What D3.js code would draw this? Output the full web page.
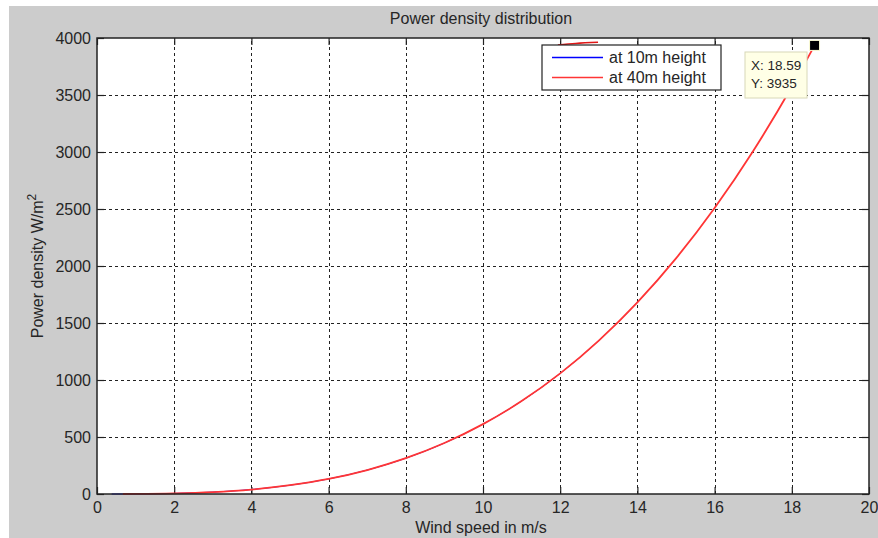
<!DOCTYPE html>
<html>
<head>
<meta charset="utf-8">
<script src="https://cdn.jsdelivr.net/npm/d3@7"></script>
<style>
  html, body { margin: 0; padding: 0; background: #fff; }
  svg { display: block; font-family: "Liberation Sans", Arial, sans-serif; }
</style>
</head>
<body>
<svg id="chart" width="878" height="538"></svg>
<script>
// Wind speed (m/s) and power density (W/m^2) at the two measuring heights
const speed40 = [0.67, 1, 2, 3, 4, 5, 6, 7, 8, 9, 10, 11, 12, 13, 14, 15, 16, 17, 18, 18.59];
const density40 = [0.2, 0.6, 4.9, 16.5, 39, 77, 132, 210, 314, 447, 613, 815, 1058, 1346, 1681, 2067, 2509, 3009, 3572, 3935];
const speed10 = [0.38, 0.67, 1, 2, 3, 4, 5, 6, 7, 8, 9, 10, 11, 12, 13, 14, 14.6];
const density10 = [0.0, 0.2, 0.6, 4.9, 16.5, 39, 77, 132, 210, 314, 447, 613, 815, 1058, 1346, 1681, 1906];
// short red trace along the top edge of the axes
const upperSpeed = [11.94, 12.4, 12.98];
const upperDensity = [3939, 3952, 3962];

const xTicks = [0, 2, 4, 6, 8, 10, 12, 14, 16, 18, 20];
const yTicks = [0, 500, 1000, 1500, 2000, 2500, 3000, 3500, 4000];
const seriesNames = ["at 10m height", "at 40m height"];
const tipPoint = { x: 18.59, y: 3935 };

const svg = d3.select("#chart");
const W = 878, H = 538;
const box = { left: 97, right: 869, top: 38, bottom: 494 };

// figure background
svg.append("rect").attr("x", 9).attr("y", 6).attr("width", W - 9).attr("height", H - 6).attr("fill", "#cccccc");

const x = d3.scaleLinear().domain([0, 20]).range([box.left, box.right]);
const y = d3.scaleLinear().domain([0, 4000]).range([box.bottom, box.top]);

// plot area
svg.append("rect")
  .attr("x", box.left).attr("y", box.top)
  .attr("width", box.right - box.left).attr("height", box.bottom - box.top)
  .attr("fill", "#fff");

// dashed grid
const grid = svg.append("g").attr("stroke", "#222").attr("stroke-width", 1).attr("stroke-dasharray", "3,3");
grid.selectAll("line.vx").data(xTicks.slice(1, -1)).join("line")
  .attr("x1", d => Math.round(x(d)) + 0.5).attr("x2", d => Math.round(x(d)) + 0.5)
  .attr("y1", box.bottom).attr("y2", box.top);
grid.selectAll("line.hy").data(yTicks.slice(1, -1)).join("line")
  .attr("y1", d => Math.round(y(d)) + 0.5).attr("y2", d => Math.round(y(d)) + 0.5)
  .attr("x1", box.left).attr("x2", box.right);

// axes with inward ticks
const tickLen = 7;
const styleAxis = g => {
  g.select(".domain").remove();
  g.selectAll(".tick line").attr("stroke", "#222").attr("stroke-width", 1.2);
  g.selectAll(".tick text").attr("fill", "#262626").attr("font-size", "16px");
};
svg.append("g").attr("transform", `translate(0,${box.bottom})`)
  .call(d3.axisBottom(x).tickValues(xTicks).tickFormat(d3.format("d")).tickSize(-tickLen).tickPadding(8))
  .call(styleAxis);
svg.append("g").attr("transform", `translate(0,${box.top})`)
  .call(d3.axisTop(x).tickValues(xTicks).tickFormat("").tickSize(-tickLen))
  .call(styleAxis);
svg.append("g").attr("transform", `translate(${box.left},0)`)
  .call(d3.axisLeft(y).tickValues(yTicks).tickFormat(d3.format("d")).tickSize(-tickLen).tickPadding(6))
  .call(styleAxis);
svg.append("g").attr("transform", `translate(${box.right},0)`)
  .call(d3.axisRight(y).tickValues(yTicks).tickFormat("").tickSize(-tickLen))
  .call(styleAxis);

// curves: the 10 m series lies beneath the 40 m series
const line = d3.line().x(d => x(d[0])).y(d => y(d[1])).curve(d3.curveMonotoneX);
const blueData = speed10.map((s, i) => [s, density10[i]]);
const redData = speed40.map((s, i) => [s, density40[i]]);
const upperData = upperSpeed.map((s, i) => [s, upperDensity[i]]);

svg.append("path").datum(blueData).attr("d", line)
  .attr("fill", "none").attr("stroke", "#0000ff").attr("stroke-width", 1);
svg.append("path").datum(redData).attr("d", line)
  .attr("fill", "none").attr("stroke", "#ff3535").attr("stroke-width", 1.8);
svg.append("path").datum(upperData).attr("d", line)
  .attr("fill", "none").attr("stroke", "#e01818").attr("stroke-width", 1.5);

// axes box
svg.append("rect")
  .attr("x", box.left).attr("y", box.top)
  .attr("width", box.right - box.left).attr("height", box.bottom - box.top)
  .attr("fill", "none").attr("stroke", "#222").attr("stroke-width", 1.5);

// legend
const lg = svg.append("g");
lg.append("rect").attr("x", 542).attr("y", 45).attr("width", 179).attr("height", 45)
  .attr("fill", "#fff").attr("stroke", "#222").attr("stroke-width", 1.2);
const legendColors = ["#0000ff", "#ff3535"];
seriesNames.forEach((name, i) => {
  const ly = 57.5 + i * 20;
  lg.append("line").attr("x1", 552).attr("x2", 603).attr("y1", ly).attr("y2", ly)
    .attr("stroke", legendColors[i]).attr("stroke-width", 1.5);
  lg.append("text").attr("x", 609).attr("y", ly + 5.5)
    .attr("font-size", "16px").attr("fill", "#262626").text(name);
});

// data tip
const tip = svg.append("g");
tip.append("rect").attr("x", 745).attr("y", 52).attr("width", 62).attr("height", 46)
  .attr("fill", "#ffffe6").attr("stroke", "#d8d8b8").attr("stroke-width", 1);
tip.append("text").attr("x", 751).attr("y", 70).attr("font-size", "13.5px").attr("fill", "#262626")
  .text("X: " + tipPoint.x);
tip.append("text").attr("x", 751).attr("y", 88).attr("font-size", "13.5px").attr("fill", "#262626")
  .text("Y: " + tipPoint.y);
tip.append("rect")
  .attr("x", x(tipPoint.x) - 5).attr("y", y(tipPoint.y) - 5).attr("width", 10).attr("height", 10)
  .attr("fill", "#000").attr("stroke", "#ffffd8").attr("stroke-width", 1);

// titles
svg.append("text").attr("x", 481).attr("y", 24).attr("text-anchor", "middle")
  .attr("font-size", "16px").attr("fill", "#262626").text("Power density distribution");
svg.append("text").attr("x", 481).attr("y", 533).attr("text-anchor", "middle")
  .attr("font-size", "16px").attr("fill", "#262626").text("Wind speed in m/s");
const yl = svg.append("text").attr("transform", "translate(43,266) rotate(-90)")
  .attr("text-anchor", "middle").attr("font-size", "16px").attr("fill", "#262626");
yl.append("tspan").text("Power density W/m");
yl.append("tspan").attr("dy", -7).attr("font-size", "12px").text("2");
</script>
</body>
</html>
